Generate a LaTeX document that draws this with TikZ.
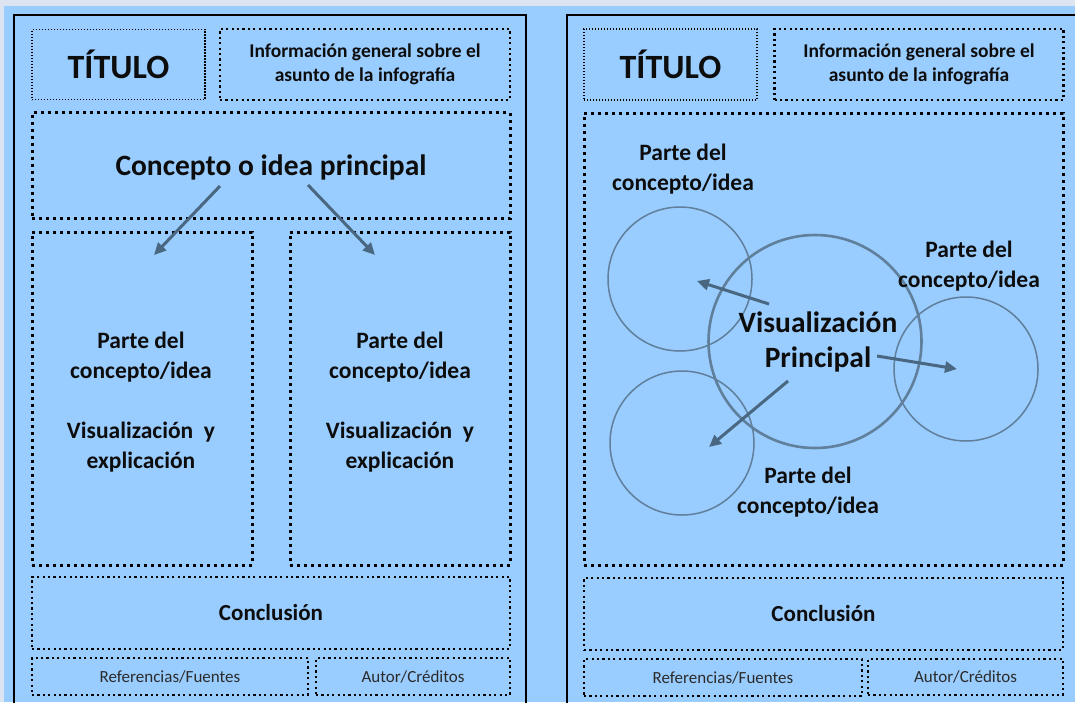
\documentclass[tikz,border=0pt]{standalone}
\usepackage{fontspec}
\setmainfont{Carlito}
\usetikzlibrary{arrows.meta}
\definecolor{bgblue}{HTML}{99CCFF}
\definecolor{stripgrey}{HTML}{DCE4F2}
\definecolor{circgrey}{HTML}{5F7F9A}
\definecolor{arrowslate}{HTML}{4A6781}
\definecolor{txtdark}{HTML}{0D0D0D}
\definecolor{txtsmall}{HTML}{2B2B2B}
\begin{document}
\begin{tikzpicture}[x=1pt,y=-1pt,
  panel/.style={draw=black,line width=2pt},
  dotthin/.style={draw=black,line width=1.3pt,dash pattern=on 1.3pt off 1.7pt,inner sep=0pt},
  dotmid/.style={draw=black,line width=2.2pt,dash pattern=on 2.2pt off 3.2pt,inner sep=0pt},
  dotthick/.style={draw=black,line width=3pt,dash pattern=on 3pt off 4pt,inner sep=0pt},
  bigtxt/.style={font=\bfseries\fontsize{34}{40}\selectfont,text=txtdark},
  infotxt/.style={font=\bfseries\fontsize{19.5}{24}\selectfont,text=txtdark,align=center},
  concepttxt/.style={font=\bfseries\fontsize{29.5}{35}\selectfont,text=txtdark},
  parttxt/.style={font=\bfseries\fontsize{23.5}{30}\selectfont,text=txtdark,align=center,inner sep=0pt},
  visutxt/.style={font=\bfseries\fontsize{29.5}{35}\selectfont,text=txtdark,align=center,inner sep=0pt},
  conctxt/.style={font=\bfseries\fontsize{23}{28}\selectfont,text=txtdark},
  smalltxt/.style={font=\fontsize{17}{20}\selectfont,text=txtsmall},
  ring/.style={circle,draw=circgrey,line width=1.5pt,inner sep=0pt},
  arr/.style={draw=arrowslate,line width=3pt,-{Triangle[length=12pt,width=11pt]}}
]
\useasboundingbox (0,0) rectangle (1075,702);
\clip (0,0) rectangle (1075,702);
\fill[stripgrey] (0,0) rectangle (1075,702);
\fill[bgblue] (4,6) rectangle (1075,702);
\draw[panel] (14,15) rectangle (526,730);
\draw[panel] (567,15) rectangle (1110,730);

% ---------- left panel ----------
\node[dotthin,minimum width=173pt,minimum height=70pt,bigtxt] (tit1) at (118.5,64.5) {TÍTULO};
\node[dotmid,minimum width=290pt,minimum height=71pt] (inf1) at (365,64.5) {};
\node[infotxt] (inf1t) at (inf1.center) {Información general sobre el\\asunto de la infografía};
\node[dotthick,minimum width=478pt,minimum height=106pt] (con1) at (271,165.5) {};
\node[concepttxt] (con1t) at (271,167) {Concepto o idea principal};
\node[dotthick,minimum width=220pt,minimum height=333pt] (colA) at (142,398.5) {};
\node[dotthick,minimum width=220pt,minimum height=333pt] (colB) at (400,398.5) {};
\node[parttxt] (colAt) at (141,402) {Parte del\\concepto/idea\\[30pt]Visualización~ y\\explicación};
\node[parttxt] (colBt) at (400,402) {Parte del\\concepto/idea\\[30pt]Visualización~ y\\explicación};
\node[dotmid,minimum width=478pt,minimum height=72pt,conctxt] (conc1) at (271,613) {Conclusión};
\node[dotmid,minimum width=276pt,minimum height=37pt,smalltxt] (ref1) at (170,676.5) {Referencias/Fuentes};
\node[dotmid,minimum width=194pt,minimum height=37pt,smalltxt] (aut1) at (413,676.5) {Autor/Créditos};
\coordinate (a1s) at (220,186);
\coordinate (a1e) at (154,255);
\coordinate (a2s) at (308,185);
\coordinate (a2e) at (375,255);
\draw[arr] (a1s) -- (a1e);
\draw[arr] (a2s) -- (a2e);

% ---------- right panel ----------
\node[dotthin,minimum width=173pt,minimum height=71pt,bigtxt] (tit2) at (670.5,64.5) {TÍTULO};
\node[dotmid,minimum width=289pt,minimum height=71pt] (inf2) at (919,64.5) {};
\node[infotxt] (inf2t) at (inf2.center) {Información general sobre el\\asunto de la infografía};
\node[dotthick,minimum width=479pt,minimum height=452pt] (main2) at (823.5,339) {};
\node[ring,minimum size=144pt] (c1) at (680,279) {};
\node[ring,minimum size=144pt] (c2) at (682,443) {};
\node[ring,minimum size=144pt] (c3) at (966,369) {};
\node[circle,draw=circgrey,line width=2.6pt,inner sep=0pt,minimum size=213pt] (c0) at (815,341.5) {};
\node[visutxt] (vis) at (818,342) {Visualización\\Principal};
\node[parttxt] (p1) at (683,169) {Parte del\\concepto/idea};
\node[parttxt] (p2) at (969,266) {Parte del\\concepto/idea};
\node[parttxt] (p3) at (808,492) {Parte del\\concepto/idea};
\coordinate (b1s) at (769,304);
\coordinate (b2s) at (877,356);
\coordinate (b3s) at (788,381);
\draw[arr] (b1s) -- ([xshift=17pt,yshift=-2pt]c1.center);
\draw[arr] (b2s) -- ([xshift=-9pt]c3.center);
\draw[arr] (b3s) -- ([xshift=27pt,yshift=-4pt]c2.center);
\node[dotmid,minimum width=479pt,minimum height=72pt,conctxt] (conc2) at (823.5,614) {Conclusión};
\node[dotmid,minimum width=278pt,minimum height=37pt,smalltxt] (ref2) at (723,677.5) {Referencias/Fuentes};
\node[dotmid,minimum width=195pt,minimum height=36pt,smalltxt] (aut2) at (965.5,677) {Autor/Créditos};
\end{tikzpicture}
\end{document}
